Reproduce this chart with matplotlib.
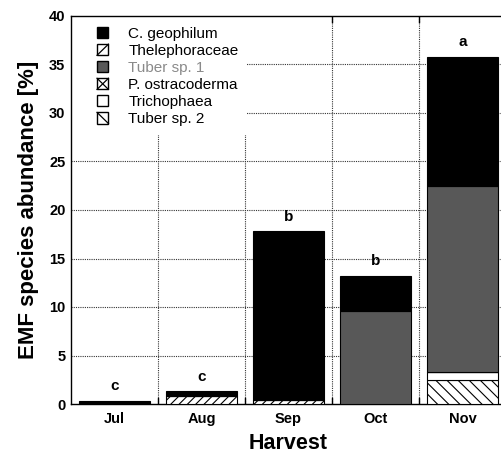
import matplotlib
matplotlib.use("Agg")
import matplotlib.pyplot as plt
from matplotlib.patches import Patch, Rectangle
from matplotlib.lines import Line2D
from matplotlib.legend_handler import HandlerBase
import numpy as np

plt.rcParams['font.family'] = ['Liberation Sans', 'DejaVu Sans']
plt.rcParams['hatch.linewidth'] = 0.8

months = ["Jul", "Aug", "Sep", "Oct", "Nov"]
species = ["C. geophilum", "Thelephoraceae", "Tuber sp. 1", "P. ostracoderma", "Trichophaea", "Tuber sp. 2"]
# segment heights (%), per species, per month
c_geophilum    = [0.3, 0.5, 17.4, 3.6, 13.3]
thelephoraceae = [0.0, 0.8, 0.4, 0.0, 0.0]
tuber_sp1      = [0.0, 0.0, 0.0, 9.6, 19.2]
p_ostracoderma = [0.0, 0.0, 0.0, 0.0, 0.0]
trichophaea    = [0.0, 0.0, 0.0, 0.0, 0.8]
tuber_sp2      = [0.0, 0.0, 0.0, 0.0, 2.5]
letters = ["c", "c", "b", "b", "a"]

styles = {
    "C. geophilum":    dict(color="black", hatch=None),
    "Thelephoraceae":  dict(color="white", hatch="////"),
    "Tuber sp. 1":     dict(color="#585858", hatch=None),
    "P. ostracoderma": dict(color="white", hatch="x"),
    "Trichophaea":     dict(color="white", hatch=None),
    "Tuber sp. 2":     dict(color="white", hatch="\\\\\\"),
}
# diagonals drawn in the legend box: '/' rising, '\\' falling
legend_diag = {"Thelephoraceae": "/", "P. ostracoderma": "x", "Tuber sp. 2": "\\"}
values = {
    "C. geophilum": c_geophilum, "Thelephoraceae": thelephoraceae,
    "Tuber sp. 1": tuber_sp1, "P. ostracoderma": p_ostracoderma,
    "Trichophaea": trichophaea, "Tuber sp. 2": tuber_sp2,
}
stack_order = ["Tuber sp. 2", "Trichophaea", "P. ostracoderma", "Thelephoraceae", "Tuber sp. 1", "C. geophilum"]


class BoxHandler(HandlerBase):
    def __init__(self, diag=None):
        super().__init__()
        self.diag = diag

    def create_artists(self, legend, orig_handle, xdescent, ydescent, width, height, fontsize, trans):
        x0, y0 = -xdescent, -ydescent
        r = Rectangle((x0, y0), width, height, facecolor=orig_handle.get_facecolor(),
                      edgecolor="black", linewidth=1.0, transform=trans)
        arts = [r]
        if self.diag in ("/", "x"):
            arts.append(Line2D([x0, x0 + width], [y0, y0 + height], color="black", lw=0.9, transform=trans))
        if self.diag in ("\\", "x"):
            arts.append(Line2D([x0, x0 + width], [y0 + height, y0], color="black", lw=0.9, transform=trans))
        return arts


fig = plt.figure(figsize=(5.01, 4.54), dpi=100)
ax = fig.add_axes([71/501, 50/454, 435/501, 388/454])

x = np.arange(len(months))
bottom = np.zeros(len(months))
for sp in stack_order:
    v = np.array(values[sp])
    st = styles[sp]
    ax.bar(x, v, bottom=bottom, width=0.82, color=st["color"], hatch=st["hatch"],
           edgecolor="black", linewidth=0.8, zorder=3)
    bottom = bottom + v

for xi, tot, lab in zip(x, bottom, letters):
    ax.text(xi, tot + 0.8, lab, ha="center", va="bottom", fontsize=11, fontweight="bold", zorder=4)

ax.set_xlim(-0.5, len(months) - 0.5)
ax.set_ylim(0, 40)
ax.set_yticks(np.arange(0, 41, 5))
ax.set_xticks(x)
ax.set_xticklabels(months, fontweight="bold", fontsize=10.5)
for t in ax.get_yticklabels():
    t.set_fontweight("bold"); t.set_fontsize(10.5)
ax.tick_params(axis="x", length=0, pad=6)
ax.tick_params(axis="y", length=0, pad=4)

bounds = np.arange(0.5, len(months) - 0.5, 1)
for b in bounds:
    ax.axvline(b, color="#333333", linestyle=(0, (1, 1)), linewidth=0.8, zorder=1)
    ax.plot([b, b], [0, 0.6], color="black", linewidth=1, zorder=2)
    ax.plot([b, b], [40, 39.4], color="black", linewidth=1, zorder=2)
for yv in np.arange(5, 40, 5):
    ax.axhline(yv, color="#333333", linestyle=(0, (1, 1)), linewidth=0.8, zorder=1)

# white background behind the legend area (hides grid lines there)
ax.add_patch(Rectangle((0, 0.693), 0.405, 0.307, transform=ax.transAxes,
                       facecolor="white", edgecolor="none", zorder=2.5))

for s in ax.spines.values():
    s.set_linewidth(1.0)

ax.set_xlabel("Harvest", fontsize=15.5, fontweight="bold", labelpad=5)
ax.set_ylabel("EMF species abundance [%]", fontsize=16, fontweight="bold", labelpad=7)

proxies = [Patch(facecolor=styles[s]["color"], edgecolor="black") for s in species]
handler_map = {p: BoxHandler(legend_diag.get(s)) for p, s in zip(proxies, species)}
leg = ax.legend(proxies, species, loc="upper left", handler_map=handler_map,
                bbox_to_anchor=(97/501, 1 - 27/454), bbox_transform=fig.transFigure,
                frameon=False, fontsize=11,
                handlelength=0.75, handleheight=0.75, handletextpad=1.3,
                labelspacing=0.2, borderaxespad=0, borderpad=0)
leg.set_zorder(6)
for t in leg.get_texts():
    if t.get_text() == "Tuber sp. 1":
        t.set_color("#8a8a8a")

fig.savefig("out.png", dpi=100)
